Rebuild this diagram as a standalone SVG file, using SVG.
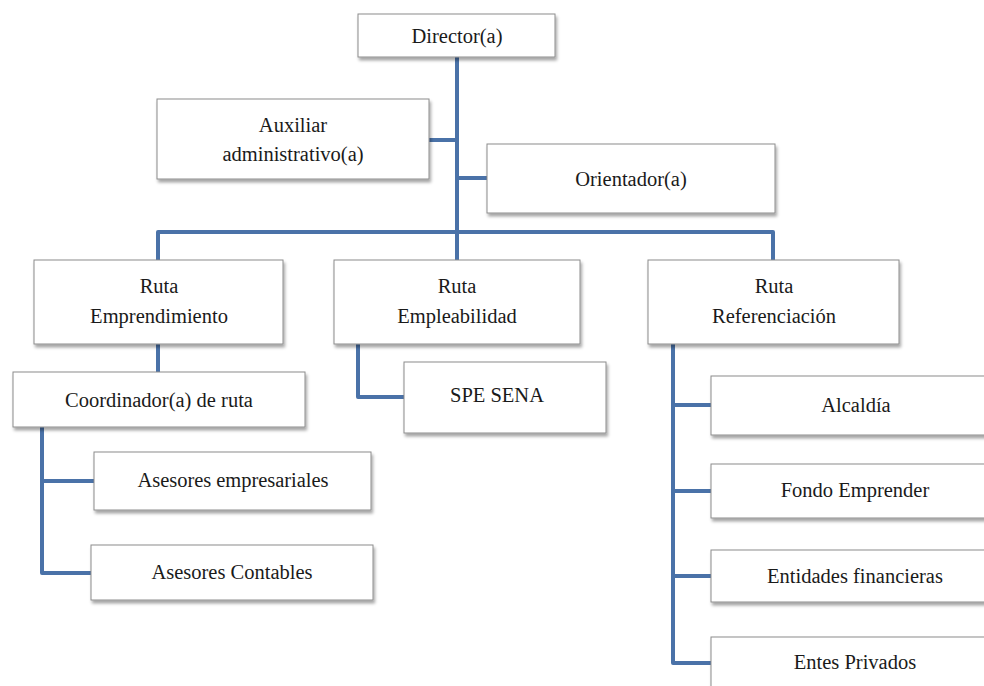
<svg xmlns="http://www.w3.org/2000/svg" width="984" height="686" viewBox="0 0 984 686">
<defs>
<filter id="sh" x="-10%" y="-20%" width="130%" height="160%">
<feDropShadow dx="1.5" dy="3" stdDeviation="1.8" flood-color="#000" flood-opacity="0.35"/>
</filter>
<style>
.box{fill:#fff;stroke:#8c8c8c;stroke-width:1;filter:url(#sh)}
.t{font-size:20.5px;fill:#1a1a1a;text-anchor:middle}
.c{fill:none;stroke:#4a72a8;stroke-width:4;stroke-linejoin:round;stroke-linecap:butt}
</style>
</defs>
<rect width="984" height="686" fill="#fff"/>
<g id="connectors">
<path class="c" d="M457 57V232"/>
<path class="c" d="M429 140H457"/>
<path class="c" d="M457 178H487"/>
<path class="c" d="M158 260V232H773V260"/>
<path class="c" d="M457 232V260"/>
<path class="c" d="M158 344V372"/>
<path class="c" d="M42 427V573H91"/>
<path class="c" d="M42 481H94"/>
<path class="c" d="M358 344V397H404"/>
<path class="c" d="M673 344V663H711"/>
<path class="c" d="M673 405H711"/>
<path class="c" d="M673 491H711"/>
<path class="c" d="M673 576H711"/>
</g>
<g font-family="Liberation Serif, Times New Roman, DejaVu Serif, serif">
<g id="director"><rect class="box" x="358" y="14" width="197" height="43"/><text class="t" x="457" y="43">Director(a)</text></g>
<g id="auxiliar"><rect class="box" x="157" y="99" width="272" height="80"/><text class="t" x="293" y="132">Auxiliar</text><text class="t" x="293" y="161">administrativo(a)</text></g>
<g id="orientador"><rect class="box" x="487" y="144" width="288" height="69"/><text class="t" x="631" y="186">Orientador(a)</text></g>
<g id="ruta-emprendimiento"><rect class="box" x="34" y="260" width="249" height="84"/><text class="t" x="159" y="293">Ruta</text><text class="t" x="159" y="323">Emprendimiento</text></g>
<g id="ruta-empleabilidad"><rect class="box" x="334" y="260" width="246" height="84"/><text class="t" x="457" y="293">Ruta</text><text class="t" x="457" y="323">Empleabilidad</text></g>
<g id="ruta-referenciacion"><rect class="box" x="648" y="260" width="251" height="84"/><text class="t" x="774" y="293">Ruta</text><text class="t" x="774" y="323">Referenciación</text></g>
<g id="coordinador"><rect class="box" x="13" y="372" width="292" height="55"/><text class="t" x="159" y="407">Coordinador(a) de ruta</text></g>
<g id="spe-sena"><rect class="box" x="404" y="362" width="202" height="71"/><text class="t" x="497" y="402">SPE SENA</text></g>
<g id="asesores-empresariales"><rect class="box" x="94" y="452" width="277" height="58"/><text class="t" x="233" y="487" textLength="191">Asesores empresariales</text></g>
<g id="asesores-contables"><rect class="box" x="91" y="545" width="282" height="55"/><text class="t" x="232" y="579">Asesores Contables</text></g>
<g id="alcaldia"><rect class="box" x="711" y="376" width="290" height="59"/><text class="t" x="856" y="412">Alcaldía</text></g>
<g id="fondo-emprender"><rect class="box" x="711" y="464" width="290" height="54"/><text class="t" x="855" y="497">Fondo Emprender</text></g>
<g id="entidades-financieras"><rect class="box" x="711" y="550" width="290" height="52"/><text class="t" x="855" y="583">Entidades  financieras</text></g>
<g id="entes-privados"><rect class="box" x="711" y="637" width="290" height="70"/><text class="t" x="855" y="669">Entes Privados</text></g>
</g>
</svg>
